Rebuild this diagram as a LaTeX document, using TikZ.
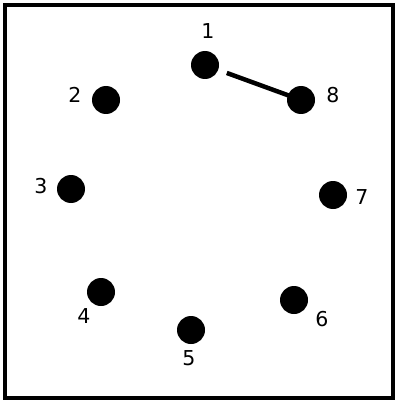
\documentclass[tikz,border=0pt]{standalone}
\usepackage{fontspec}
\setmainfont{DejaVu Sans}
\begin{document}
\begin{tikzpicture}[x=1pt,y=-1pt,
  dot/.style={circle,fill=black,minimum width=28pt,minimum height=27pt,inner sep=0pt},
  lbl/.style={font=\fontsize{20.5}{22}\selectfont,inner sep=0pt},
  link/.style={line width=4.5pt}]
\useasboundingbox (0,0) rectangle (397,401);
\draw[line width=4.5pt] (5,5) rectangle (393,398);
\node[dot] (d1) at (205,65) {};
\node[dot] (d2) at (106,100) {};
\node[dot] (d3) at (71,189) {};
\node[dot] (d4) at (101,292) {};
\node[dot] (d5) at (191,330) {};
\node[dot] (d6) at (294,300) {};
\node[dot] (d7) at (333,195) {};
\node[dot] (d8) at (301,100) {};
\node[lbl] (l1) at (208,31) {1};
\node[lbl] (l2) at (75,95) {2};
\node[lbl] (l3) at (41,186) {3};
\node[lbl] (l4) at (84,316) {4};
\node[lbl] (l5) at (189,358) {5};
\node[lbl] (l6) at (322,319) {6};
\node[lbl] (l7) at (362,197) {7};
\node[lbl] (l8) at (333,95) {8};
\draw[link,shorten <=9pt,shorten >=-2pt] (d1) -- (d8);
\end{tikzpicture}
\end{document}
